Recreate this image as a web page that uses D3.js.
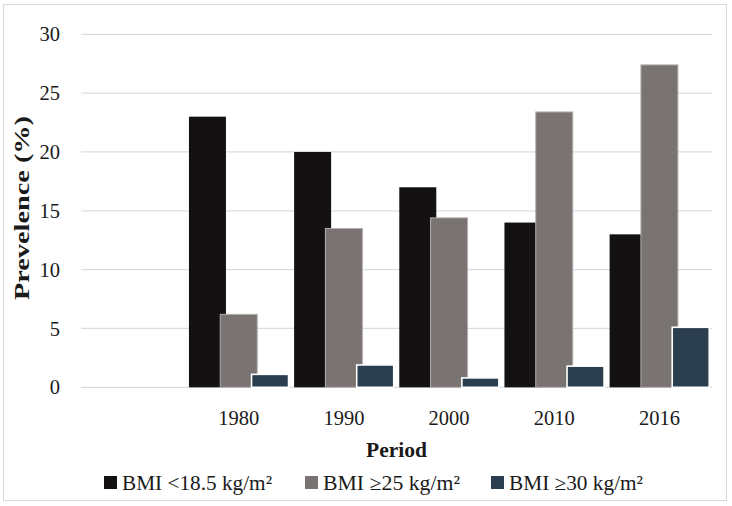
<!DOCTYPE html>
<html><head><meta charset="utf-8">
<script src="https://cdn.jsdelivr.net/npm/d3@7"></script>
<style>body{margin:0;background:#fff}svg{display:block}text{font-family:"Liberation Serif","DejaVu Serif",serif;fill:#1a1a1a}</style>
</head><body><svg id="c" width="732" height="506"></svg>
<script>
const categories = ["", "1980", "1990", "2000", "2010", "2016"];
const seriesNames = ["BMI <18.5 kg/m²", "BMI ≥25 kg/m²", "BMI ≥30 kg/m²"];
const under = [null, 23, 20, 17, 14, 13];
const over = [null, 6.2, 13.5, 14.4, 23.4, 27.4];
const obese = [null, 1.1, 1.9, 0.8, 1.8, 5.1];
const yTicks = [0, 5, 10, 15, 20, 25, 30];
const colors = ["#131112", "#797372", "#2b3e50"];
const strokes = ["none", "#b5b1b0", "#ffffff"];

const svg = d3.select("#c");
svg.append("rect").attr("x",3.5).attr("y",4.5).attr("width",723).attr("height",496)
  .attr("fill","#fff").attr("stroke","#d9d9d9").attr("stroke-width",1);

const L=81, R=712, T=34.3, B=387.3;
const x = d3.scaleBand().domain(categories.map((c,i)=>i)).range([L,R]).paddingInner(0).paddingOuter(0);
const y = d3.scaleLinear().domain([0,30]).range([B,T]);

// gridlines
svg.append("g").selectAll("line").data(yTicks).join("line")
  .attr("x1",L).attr("x2",R).attr("y1",d=>y(d)).attr("y2",d=>y(d))
  .attr("stroke","#d9dde2").attr("stroke-width",1.3);

// y tick labels
svg.append("g").selectAll("text").data(yTicks).join("text")
  .attr("x",60).attr("y",d=>y(d)).attr("dy","0.35em").attr("text-anchor","end")
  .attr("font-size",20.5).text(d=>d);

// bars
const series=[under,over,obese];
const bw = 37, step = 31.3;
const groupW = bw + 2*step;
series.forEach((vals,s)=>{
  svg.append("g").selectAll("rect").data(vals.map((v,i)=>({v,i})).filter(d=>d.v!=null)).join("rect")
    .attr("x",d=>x(d.i)+(x.bandwidth()-groupW)/2+s*step)
    .attr("y",d=>y(d.v)).attr("width",bw).attr("height",d=>y(0)-y(d.v))
    .attr("fill",colors[s]).attr("stroke",strokes[s]).attr("stroke-width",s===2?1.6:1);
});

// x tick labels
svg.append("g").selectAll("text").data(categories.map((c,i)=>({c,i}))).join("text")
  .attr("x",d=>x(d.i)+x.bandwidth()/2).attr("y",425).attr("text-anchor","middle")
  .attr("font-size",20.5).text(d=>d.c);

// axis titles
svg.append("text").attr("x",(L+R)/2).attr("y",457).attr("text-anchor","middle")
  .attr("font-size",20.5).attr("font-weight","bold")
  .attr("textLength",61).attr("lengthAdjust","spacingAndGlyphs").text("Period");
svg.append("text").attr("transform","translate(29,208) rotate(-90)").attr("text-anchor","middle")
  .attr("font-size",20.5).attr("font-weight","bold")
  .attr("textLength",184).attr("lengthAdjust","spacingAndGlyphs").text("Prevelence (%)");

// legend
const legX=[104,305,491];
const legLen=[150,137,134];
const lg=svg.append("g").selectAll("g").data(seriesNames).join("g")
  .attr("transform",(d,i)=>`translate(${legX[i]},483)`);
lg.append("rect").attr("x",0).attr("y",-7).attr("width",13).attr("height",13).attr("fill",(d,i)=>colors[i]);
lg.append("text").attr("x",18).attr("y",0).attr("dy","0.35em").attr("font-size",20.5)
  .attr("textLength",(d,i)=>legLen[i]).attr("lengthAdjust","spacingAndGlyphs").text(d=>d);
</script></body></html>
